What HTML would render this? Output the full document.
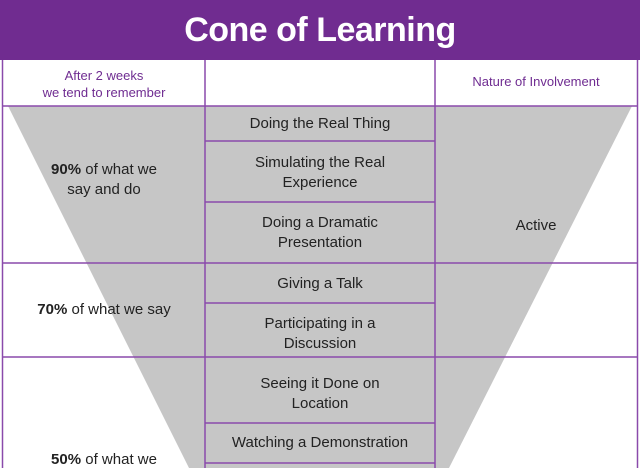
<!DOCTYPE html>
<html><head><style>
body{margin:0;width:640px;height:468px;overflow:hidden;background:#fff;font-family:"Liberation Sans",sans-serif;}
.t{position:absolute;text-align:center;color:#222;font-size:15px;line-height:20px;}
.p{position:absolute;text-align:center;color:#6f2c91;font-size:13px;line-height:17px;}
</style></head><body>
<svg width="640" height="468" style="position:absolute;left:0;top:0">
<rect x="0" y="0" width="640" height="60" fill="#702c90"/>
<polygon points="8,106 632,106 449,468 189,468" fill="#c6c6c6"/>
<rect x="205" y="106" width="230" height="362" fill="#c6c6c6"/>
<g stroke="#8a4aab" stroke-width="1.5" fill="none">
<line x1="2.5" y1="60" x2="2.5" y2="468"/>
<line x1="637.5" y1="60" x2="637.5" y2="468"/>
<line x1="205" y1="60" x2="205" y2="468"/>
<line x1="435" y1="60" x2="435" y2="468"/>
<line x1="2" y1="106" x2="638" y2="106"/>
<line x1="2" y1="263" x2="638" y2="263"/>
<line x1="2" y1="357" x2="638" y2="357"/>
<line x1="205" y1="141" x2="435" y2="141"/>
<line x1="205" y1="202" x2="435" y2="202"/>
<line x1="205" y1="303" x2="435" y2="303"/>
<line x1="205" y1="423" x2="435" y2="423"/>
<line x1="205" y1="463" x2="435" y2="463"/>
</g>
</svg>
<div style="position:absolute;left:0;top:7px;width:640px;text-align:center;color:#fff;font-size:34px;font-weight:bold;line-height:46px;letter-spacing:-0.5px">Cone of Learning</div>
<div class="p" style="left:3px;top:67px;width:202px">After 2 weeks<br>we tend to remember</div>
<div class="p" style="left:435px;top:73px;width:202px">Nature of Involvement</div>
<div class="t" style="left:205px;top:114px;width:230px">Doing the Real Thing</div>
<div class="t" style="left:205px;top:153px;width:230px">Simulating the Real<br>Experience</div>
<div class="t" style="left:205px;top:213px;width:230px">Doing a Dramatic<br>Presentation</div>
<div class="t" style="left:205px;top:274px;width:230px">Giving a Talk</div>
<div class="t" style="left:205px;top:314px;width:230px">Participating in a<br>Discussion</div>
<div class="t" style="left:205px;top:374px;width:230px">Seeing it Done on<br>Location</div>
<div class="t" style="left:205px;top:433px;width:230px">Watching a Demonstration</div>
<div class="t" style="left:3px;top:160px;width:202px"><b>90%</b> of what we<br>say and do</div>
<div class="t" style="left:3px;top:300px;width:202px"><b>70%</b> of what we say</div>
<div class="t" style="left:3px;top:450px;width:202px"><b>50%</b> of what we</div>
<div class="t" style="left:435px;top:216px;width:202px">Active</div>
</body></html>
